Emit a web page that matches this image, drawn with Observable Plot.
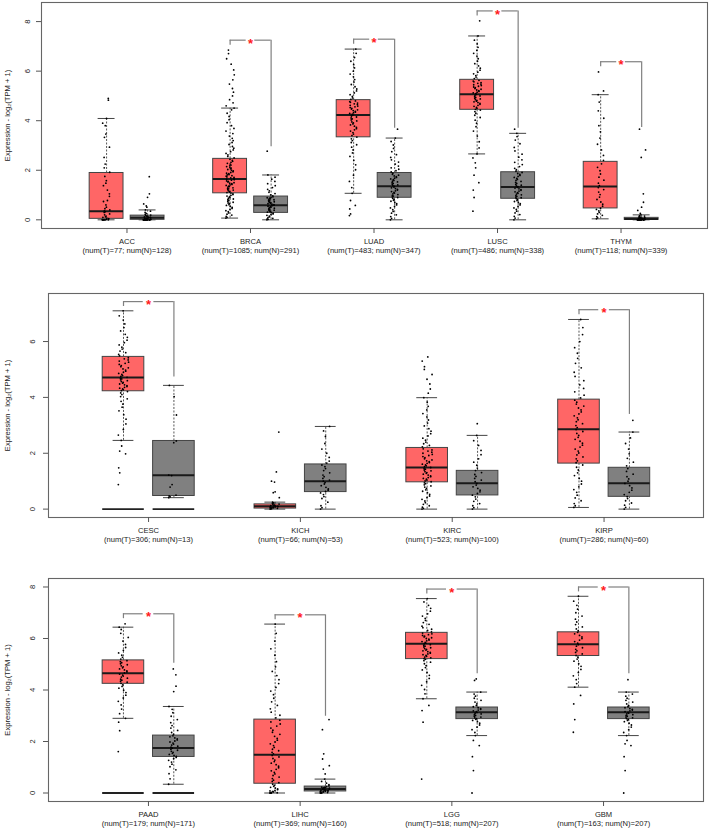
<!DOCTYPE html>
<html><head><meta charset="utf-8">
<script src="https://cdn.jsdelivr.net/npm/d3@7"></script>
<script src="https://cdn.jsdelivr.net/npm/@observablehq/plot@0.6"></script>
<style>
body{margin:0;background:#fff;font-family:"Liberation Sans",Arial,sans-serif}
#c svg{display:block}
</style>
</head><body><div id="c"></div>
<script>
// ---------------- Panel 1 ----------------
const names1 = ["ACC","BRCA","LUAD","LUSC","THYM"];
const numT1 = [77,1085,483,486,118];
const numN1 = [128,291,347,338,339];
// [lower whisker, Q1, median, Q3, upper whisker]
const tumorStats1 = [[0,0.04,0.35,1.89,4.09],[0.07,1.07,1.65,2.46,4.51],[1.07,3.33,4.23,4.83,6.89],[2.66,4.44,5.07,5.65,7.42],[0.04,0.46,1.34,2.34,5.05]];
const normalStats1 = [[0,0,0.08,0.17,0.4],[0,0.28,0.59,0.94,1.81],[0,0.89,1.36,1.89,3.30],[0,0.85,1.32,1.92,3.49],[0,0,0.03,0.08,0.2]];
const tumorDots1 = [
 [0,0,0,0,0,0,0,0.01,0.02,0.03,0.05,0.07,0.1,0.12,0.15,0.2,0.24,0.3,0.33,0.36,0.4,0.45,0.51,0.6,0.74,0.78,0.95,1.05,1.2,1.38,1.48,1.58,1.75,1.92,2.1,2.25,2.52,2.93,3.33,3.46,3.8,3.9,4.09,4.83,4.9],
 [0.07,0.1,0.14,0.19,0.23,0.28,0.33,0.37,0.42,0.46,0.5,0.54,0.58,0.61,0.65,0.68,0.71,0.75,0.78,0.81,0.84,0.87,0.9,0.93,0.96,0.99,1.02,1.05,
  1.08,1.1,1.12,1.15,1.17,1.2,1.22,1.25,1.27,1.29,1.32,1.34,1.36,1.39,1.41,1.43,1.46,1.48,1.5,1.53,1.55,1.57,1.6,1.62,1.64,1.66,1.69,1.71,1.73,1.76,1.78,1.81,1.83,1.86,1.88,1.91,1.94,1.97,2.0,2.03,2.06,2.09,2.12,2.15,2.18,2.21,2.25,2.28,2.32,2.36,2.4,2.44,
  2.5,2.56,2.62,2.68,2.75,2.82,2.89,2.96,3.04,3.12,3.2,3.29,3.38,3.48,3.58,3.69,3.8,3.92,4.04,4.17,4.3,4.44,4.51,
  4.6,4.72,4.85,5.0,5.15,5.3,5.48,5.65,5.85,6.05,6.28,6.5,6.71,6.85],
 [0.17,0.24,0.44,0.58,0.78,
  1.07,1.3,1.55,1.8,2.02,2.22,2.4,2.56,2.7,2.82,2.93,3.03,3.12,3.2,3.27,
  3.34,3.4,3.46,3.52,3.58,3.63,3.68,3.73,3.78,3.83,3.87,3.91,3.95,3.99,4.03,4.07,4.11,4.15,4.19,4.23,4.26,4.29,4.32,4.35,4.38,4.41,4.44,4.47,4.5,4.53,4.56,4.59,4.62,4.65,4.68,4.71,4.74,4.77,4.8,
  4.86,4.92,4.98,5.05,5.12,5.2,5.28,5.37,5.46,5.56,5.66,5.77,5.88,6.0,6.13,6.26,6.4,6.55,6.72,6.89],
 [0.35,0.9,1.2,1.5,1.8,2.1,2.3,2.5,
  2.66,2.9,3.15,3.38,3.58,3.76,3.9,4.02,4.13,4.22,4.3,4.37,4.43,
  4.46,4.5,4.54,4.58,4.62,4.66,4.7,4.73,4.76,4.79,4.82,4.85,4.88,4.91,4.94,4.97,5.0,5.03,5.06,5.09,5.12,5.15,5.18,5.21,5.24,5.27,5.3,5.33,5.36,5.39,5.42,5.45,5.48,5.51,5.54,5.57,5.6,5.63,
  5.7,5.76,5.82,5.89,5.96,6.04,6.12,6.21,6.3,6.4,6.5,6.61,6.72,6.84,6.96,7.1,7.25,7.42,8.03],
 [0.04,0.08,0.13,0.18,0.24,0.3,0.36,0.42,0.47,0.55,0.63,0.72,0.82,0.92,1.02,1.12,1.22,1.3,1.38,1.48,1.6,1.72,1.85,1.98,2.12,2.26,2.4,2.6,2.82,3.05,3.3,3.55,3.8,4.1,4.4,4.75,5.05,5.2,5.97]
];
const normalDots1 = [
 [0,0,0,0,0,0,0,0,0,0,0,0,0,0,0,0,0.01,0.01,0.02,0.02,0.03,0.04,0.05,0.06,0.07,0.08,0.09,0.1,0.11,0.12,0.14,0.15,0.17,0.19,0.22,0.26,0.3,0.35,0.4,0.51,0.56,0.64,0.91,1.05,1.74],
 [0,0.02,0.04,0.06,0.09,0.12,0.15,0.18,0.21,0.24,0.27,
  0.29,0.31,0.33,0.35,0.37,0.39,0.41,0.43,0.45,0.47,0.49,0.51,0.53,0.55,0.57,0.59,0.61,0.63,0.65,0.67,0.69,0.71,0.73,0.75,0.77,0.79,0.81,0.83,0.85,0.87,0.89,0.91,0.93,
  0.97,1.01,1.06,1.11,1.17,1.23,1.3,1.38,1.46,1.55,1.64,1.72,1.81,2.77],
 [0,0.06,0.13,0.2,0.27,0.34,0.41,0.48,0.54,0.6,0.65,0.7,0.75,0.79,0.83,0.87,
  0.9,0.93,0.96,0.99,1.02,1.05,1.08,1.11,1.14,1.17,1.2,1.23,1.26,1.29,1.32,1.35,1.38,1.41,1.44,1.47,1.5,1.53,1.56,1.59,1.62,1.65,1.68,1.71,1.74,1.77,1.8,1.84,1.88,
  1.93,1.98,2.04,2.1,2.17,2.25,2.33,2.42,2.52,2.63,2.75,2.88,3.02,3.16,3.3,3.66],
 [0,0.07,0.14,0.21,0.28,0.35,0.42,0.48,0.54,0.6,0.65,0.7,0.74,0.78,0.82,
  0.86,0.89,0.92,0.95,0.98,1.01,1.04,1.07,1.1,1.13,1.16,1.19,1.22,1.25,1.28,1.31,1.34,1.37,1.4,1.43,1.47,1.51,1.55,1.59,1.63,1.67,1.71,1.75,1.79,1.83,1.87,1.91,
  1.96,2.02,2.08,2.15,2.23,2.32,2.42,2.53,2.65,2.78,2.92,3.07,3.22,3.36,3.49,3.66],
 [0,0,0,0,0,0,0,0,0,0,0,0,0,0,0,0,0.01,0.01,0.01,0.02,0.02,0.02,0.03,0.03,0.03,0.04,0.04,0.05,0.05,0.06,0.06,0.07,0.08,0.09,0.1,0.11,0.13,0.15,0.17,0.2,0.26,0.38,0.51,0.71,1.05,2.52,2.82,3.66]
];
const sigTop1 = [null,7.25,7.29,8.43,6.38];
const sigEnd1 = [null,2.95,3.70,3.70,3.73];
const zeroLine1 = [false,false,false,false,false];
const yTicks1 = [0,2,4,6,8];

// ---------------- Panel 2 ----------------
const names2 = ["CESC","KICH","KIRC","KIRP"];
const numT2 = [306,66,523,286];
const numN2 = [13,53,100,60];
const tumorStats2 = [[2.46,4.22,4.71,5.45,7.10],[0,0.02,0.1,0.17,0.25],[0,0.96,1.49,2.19,3.99],[0.06,1.63,2.86,3.92,6.79]];
const normalStats2 = [[0.41,0.47,1.21,2.44,4.43],[0,0.61,1.0,1.6,2.96],[0,0.49,0.93,1.37,2.64],[0,0.44,0.93,1.48,2.76]];
const tumorDots2 = [
 [0.88,1.30,1.48,1.98,2.08,2.26,
  2.46,2.65,2.85,3.05,3.22,3.38,3.52,3.65,3.76,3.86,3.95,4.03,4.1,4.16,4.21,
  4.24,4.27,4.3,4.33,4.36,4.39,4.42,4.45,4.48,4.51,4.54,4.57,4.6,4.63,4.66,4.69,4.72,4.75,4.78,4.82,4.86,4.9,4.94,4.98,5.02,5.06,5.1,5.14,5.18,5.22,5.26,5.3,5.34,5.38,5.42,
  5.49,5.54,5.6,5.66,5.73,5.8,5.88,5.96,6.05,6.15,6.26,6.38,6.5,6.63,6.77,6.92,7.1],
 [0,0.01,0.02,0.03,0.04,0.05,0.06,0.07,0.08,0.09,0.1,0.11,0.12,0.13,0.14,0.16,0.18,0.2,0.22,0.25,0.41,0.59,0.62,0.97,1.0,1.33,2.76],
 [0,0.03,0.07,0.12,0.17,0.23,0.29,0.35,0.41,0.47,0.53,0.59,0.64,0.69,0.74,0.79,0.83,0.87,0.91,0.94,
  0.98,1.01,1.04,1.07,1.1,1.13,1.16,1.19,1.22,1.25,1.28,1.31,1.34,1.37,1.4,1.43,1.46,1.49,1.52,1.55,1.58,1.61,1.64,1.67,1.7,1.73,1.76,1.8,1.84,1.88,1.92,1.96,2.0,2.04,2.08,2.12,2.16,
  2.23,2.28,2.34,2.4,2.47,2.54,2.62,2.7,2.79,2.88,2.98,3.08,3.19,3.3,3.42,3.55,3.68,3.83,3.99,
  4.15,4.3,4.48,4.65,4.82,5.0,5.1,5.3,5.45],
 [0.06,0.12,0.2,0.3,0.4,0.5,0.6,0.7,0.8,0.9,1.0,1.1,1.2,1.3,1.4,1.5,1.58,
  1.66,1.73,1.8,1.87,1.94,2.01,2.08,2.15,2.22,2.29,2.36,2.43,2.5,2.57,2.64,2.71,2.78,2.85,2.92,2.99,3.06,3.13,3.2,3.27,3.34,3.41,3.48,3.55,3.62,3.69,3.76,3.83,3.9,
  3.98,4.08,4.2,4.32,4.45,4.6,4.75,4.9,5.06,5.22,5.4,5.58,5.78,6.0,6.25,6.5,6.79]
];
const normalDots2 = [
 [0.41,0.44,0.47,0.5,0.79,0.88,1.2,1.22,2.38,2.44,3.37,4.03,4.43],
 [0,0.05,0.12,0.25,0.38,0.45,0.52,0.58,0.63,0.68,0.72,0.78,0.84,0.9,0.95,1.0,1.04,1.1,1.16,1.22,1.3,1.38,1.45,1.52,1.58,1.65,1.72,1.85,2.0,2.15,2.35,2.6,2.8,2.96],
 [0,0.05,0.12,0.2,0.28,0.36,0.44,0.5,0.56,0.62,0.68,0.74,0.8,0.86,0.92,0.98,1.04,1.1,1.17,1.24,1.31,1.38,1.47,1.57,1.68,1.8,1.95,2.1,2.28,2.45,2.64,3.06],
 [0,0.06,0.14,0.22,0.3,0.38,0.45,0.52,0.6,0.68,0.76,0.84,0.92,1.0,1.08,1.16,1.25,1.35,1.45,1.55,1.68,1.82,1.98,2.15,2.35,2.55,2.76,3.18]
];
const sigTop2 = [7.43,null,null,7.14];
const sigEnd2 = [4.73,null,null,3.39];
const zeroLine2 = [true,false,false,false];
const yTicks2 = [0,2,4,6];

// ---------------- Panel 3 ----------------
const names3 = ["PAAD","LIHC","LGG","GBM"];
const numT3 = [179,369,518,163];
const numN3 = [171,160,207,207];
const tumorStats3 = [[2.90,4.24,4.65,5.15,6.44],[0,0.36,1.49,2.85,6.56],[3.66,5.2,5.8,6.22,7.55],[4.11,5.32,5.78,6.24,7.64]];
const normalStats3 = [[0.34,1.40,1.75,2.23,3.36],[0,0.06,0.16,0.25,0.54],[2.23,2.87,3.14,3.32,3.92],[2.23,2.87,3.14,3.32,3.92]];
const tumorDots3 = [
 [1.61,2.42,2.75,2.9,3.08,3.26,3.42,3.56,3.69,3.8,3.9,3.99,4.07,4.14,4.2,4.26,4.3,4.34,4.38,4.42,4.46,4.5,4.54,4.58,4.62,4.66,4.7,4.74,4.78,4.82,4.86,4.9,4.94,4.98,5.02,5.06,5.1,5.14,5.2,5.27,5.35,5.44,5.54,5.65,5.77,5.9,6.04,6.2,6.35,6.44,6.57],
 [0,0,0,0.01,0.02,0.04,0.06,0.08,0.1,0.13,0.16,0.19,0.22,0.26,0.3,0.34,
  0.4,0.45,0.5,0.56,0.62,0.68,0.74,0.8,0.86,0.92,0.98,1.04,1.1,1.16,1.22,1.28,1.34,1.4,1.46,1.52,1.58,1.64,1.7,1.77,1.84,1.91,1.98,2.05,2.12,2.2,2.28,2.36,2.44,2.52,2.6,2.68,2.76,2.83,
  2.92,3.02,3.14,3.27,3.4,3.54,3.68,3.82,3.96,4.1,4.25,4.4,4.56,4.72,4.9,5.1,5.35,5.6,5.9,6.2,6.56],
 [0.54,2.75,3.2,3.4,
  3.66,3.85,4.02,4.18,4.32,4.45,4.57,4.68,4.78,4.87,4.95,5.02,5.08,5.14,5.19,
  5.22,5.25,5.28,5.31,5.34,5.37,5.4,5.43,5.46,5.49,5.52,5.55,5.58,5.61,5.64,5.67,5.7,5.73,5.76,5.79,5.82,5.85,5.88,5.91,5.94,5.97,6.0,6.03,6.06,6.09,6.12,6.15,6.18,6.21,
  6.26,6.31,6.36,6.42,6.48,6.55,6.62,6.7,6.78,6.87,6.96,7.06,7.17,7.29,7.42,7.55],
 [2.36,2.85,3.46,3.79,4.11,4.25,4.4,4.55,4.68,4.8,4.92,5.02,5.12,5.2,5.28,5.34,5.4,5.46,5.52,5.58,5.64,5.7,5.76,5.82,5.88,5.94,6.0,6.06,6.12,6.18,6.24,6.3,6.37,6.45,6.54,6.64,6.75,6.87,7.0,7.14,7.29,7.45,7.64]
];
const normalDots3 = [
 [0.34,0.55,0.75,0.9,1.02,1.12,1.2,1.27,1.33,1.38,1.42,1.46,1.5,1.54,1.58,1.62,1.66,1.7,1.74,1.78,1.82,1.86,1.9,1.94,1.98,2.02,2.06,2.1,2.14,2.18,2.22,2.28,2.35,2.43,2.52,2.62,2.73,2.85,2.98,3.12,3.25,3.36,3.94,4.15,4.59,4.82],
 [0,0,0.01,0.02,0.03,0.04,0.05,0.06,0.07,0.08,0.09,0.1,0.11,0.12,0.13,0.14,0.15,0.16,0.17,0.18,0.19,0.2,0.21,0.22,0.23,0.25,0.28,0.32,0.38,0.45,0.54,0.74,0.93,1.06,1.32,1.52,2.46,2.85],
 [0,0.87,1.41,1.84,2.04,2.23,2.35,2.46,2.56,2.64,2.71,2.77,2.82,2.86,2.89,2.92,2.95,2.98,3.01,3.04,3.07,3.1,3.13,3.16,3.19,3.22,3.25,3.28,3.31,3.35,3.4,3.46,3.53,3.6,3.68,3.76,3.84,3.92,4.37,4.43],
 [0,0.87,1.41,1.84,1.91,2.04,2.23,2.35,2.46,2.56,2.64,2.71,2.77,2.82,2.86,2.89,2.92,2.95,2.98,3.01,3.04,3.07,3.1,3.13,3.16,3.19,3.22,3.25,3.28,3.31,3.35,3.4,3.46,3.53,3.6,3.68,3.76,3.84,3.92,4.4]
];
const sigTop3 = [6.96,6.92,7.92,8.0];
const sigEnd3 = [5.04,2.98,4.63,4.63];
const zeroLine3 = [true,false,false,false];
const yTicks3 = [0,2,4,6,8];

const yTitle = "Expression - log\u2082(TPM + 1)";

// ---------------- drawing ----------------
const OFF_T = -0.165, OFF_N = 0.167, HW = 0.137, JIT = 0.034, GAP = 0.035;
const TUMOR_FILL = "#FF6666", NORMAL_FILL = "#808080";

// deterministic horizontal spread of the samples (layout only, no data)
const spread = j => (((j * j * 0.3819660113 + j * 0.7548776662) % 1) - 0.5) * 2 * JIT;

function panel(o) {
  const groups = [];
  o.names.forEach((n, i) => {
    [["T", o.tStats[i], o.tDots[i], OFF_T, TUMOR_FILL], ["N", o.nStats[i], o.nDots[i], OFF_N, NORMAL_FILL]].forEach(([k, s, dots, off, fill]) => {
      groups.push({i, k, x: i + off, lo: s[0], q1: s[1], med: s[2], q3: s[3], hi: s[4], dots, fill, zero: o.zeroLine[i]});
    });
  });
  const dots = groups.flatMap(g => g.dots.map((v, j) => ({x: g.x + spread(j), v})));
  const sig = o.names.map((n, i) => ({i, top: o.sigTop[i], end: o.sigEnd[i]})).filter(d => d.top != null);
  const leg = (o.yDomain[1] - o.yDomain[0]) * 0.022;
  const labels = o.names.map((n, i) => `${n}\n(num(T)=${o.numT[i]}; num(N)=${o.numN[i]})`);
  return Plot.plot({
    width: 709, height: o.height,
    marginTop: o.m[0], marginRight: o.m[1], marginBottom: o.m[2], marginLeft: o.m[3],
    style: {fontFamily: "'Liberation Sans', Arial, sans-serif", fontSize: "7.6px", background: "#fff", color: "#222"},
    x: {type: "linear", domain: o.xDomain, axis: null},
    y: {type: "linear", domain: o.yDomain, axis: null},
    marks: [
      Plot.frame({stroke: "#666", strokeWidth: 1.1}),
      Plot.axisX({ticks: o.names.map((n, i) => i), tickFormat: i => labels[i], tickSize: 5, tickPadding: 4, lineHeight: 1.22, fontSize: 7.6, fill: "#222", label: null, stroke: "#555"}),
      Plot.axisY({ticks: o.yTicks, tickSize: 5, tickFormat: () => "", label: null, stroke: "#555"}),
      Plot.text(o.yTicks, {x: o.xDomain[0], y: d => d, text: d => String(d), rotate: -90, dx: o.tickDx, textAnchor: "middle", lineAnchor: "middle", fontSize: 7.6, fill: "#222"}),
      Plot.text([yTitle], {frameAnchor: "left", dx: 7 - o.m[3], rotate: -90, textAnchor: "middle", lineAnchor: "middle", fontSize: 7.6, fill: "#222"}),
      // whiskers
      Plot.ruleX(groups, {x: "x", y1: "q3", y2: "hi", stroke: "#444", strokeWidth: 0.9, strokeDasharray: "2,1.5"}),
      Plot.ruleX(groups, {x: "x", y1: "lo", y2: "q1", stroke: "#444", strokeWidth: 0.9, strokeDasharray: "2,1.5"}),
      Plot.ruleY(groups, {y: "hi", x1: d => d.x - HW / 2, x2: d => d.x + HW / 2, stroke: "#444", strokeWidth: 1}),
      Plot.ruleY(groups, {y: "lo", x1: d => d.x - HW / 2, x2: d => d.x + HW / 2, stroke: "#444", strokeWidth: 1}),
      // boxes
      Plot.rect(groups, {x1: d => d.x - HW, x2: d => d.x + HW, y1: "q1", y2: "q3", fill: "fill", stroke: "#444", strokeWidth: 1}),
      Plot.ruleY(groups.filter(g => g.zero), {y: 0, x1: d => d.x - HW, x2: d => d.x + HW, stroke: "#222", strokeWidth: 1.8}),
      Plot.ruleY(groups, {y: "med", x1: d => d.x - HW, x2: d => d.x + HW, stroke: "#1a1a1a", strokeWidth: 2}),
      // jittered samples
      Plot.dot(dots, {x: "x", y: "v", r: 0.9, fill: "#000", stroke: null}),
      // significance brackets
      Plot.ruleY(sig, {y: "top", x1: d => d.i + OFF_T, x2: d => d.i - GAP, stroke: "#808080", strokeWidth: 1.2}),
      Plot.ruleY(sig, {y: "top", x1: d => d.i + GAP, x2: d => d.i + OFF_N, stroke: "#808080", strokeWidth: 1.2}),
      Plot.ruleX(sig, {x: d => d.i + OFF_T, y1: "top", y2: d => d.top - leg, stroke: "#808080", strokeWidth: 1.2}),
      Plot.ruleX(sig, {x: d => d.i + OFF_N, y1: "top", y2: "end", stroke: "#808080", strokeWidth: 1.2}),
      Plot.text(sig, {x: "i", y: "top", text: () => "*", fill: "#ff1a1a", fontSize: 13, fontWeight: "bold", dy: 3.5})
    ]
  });
}

const c = document.getElementById("c");
c.append(panel({names: names1, numT: numT1, numN: numN1, tStats: tumorStats1, nStats: normalStats1, tDots: tumorDots1, nDots: normalDots1,
  sigTop: sigTop1, sigEnd: sigEnd1, zeroLine: zeroLine1, yTicks: yTicks1,
  yDomain: [-0.35, 8.77], xDomain: [-0.692, 4.70], height: 262, m: [2, 2, 34, 41], tickDx: -14}));
c.append(panel({names: names2, numT: numT2, numN: numN2, tStats: tumorStats2, nStats: normalStats2, tDots: tumorDots2, nDots: normalDots2,
  sigTop: sigTop2, sigEnd: sigEnd2, zeroLine: zeroLine2, yTicks: yTicks2,
  yDomain: [-0.30, 7.72], xDomain: [-0.659, 3.655], height: 286, m: [31, 6, 31, 48], tickDx: -16}));
c.append(panel({names: names3, numT: numT3, numN: numN3, tStats: tumorStats3, nStats: normalStats3, tDots: tumorDots3, nDots: normalDots3,
  sigTop: sigTop3, sigEnd: sigEnd3, zeroLine: zeroLine3, yTicks: yTicks3,
  yDomain: [-0.33, 8.33], xDomain: [-0.659, 3.659], height: 281, m: [30, 6, 28, 48], tickDx: -16}));
</script>
</body></html>
